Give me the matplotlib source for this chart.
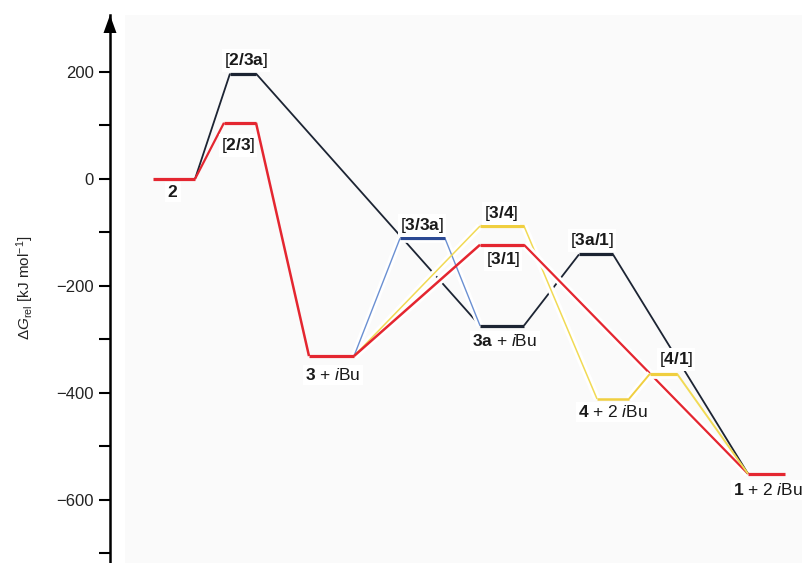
import matplotlib
matplotlib.use("Agg")
import matplotlib.pyplot as plt
from matplotlib.patches import Polygon, Rectangle

plt.rcParams.update({
    "font.family": "Liberation Sans",
    "mathtext.fontset": "custom",
    "mathtext.rm": "Liberation Sans",
    "mathtext.it": "Liberation Sans:italic",
    "mathtext.bf": "Liberation Sans:bold",
})

# Gibbs energies relative to 2 (kJ/mol)
states = ["2", "[2/3a]", "[2/3]", "3", "[3/3a]", "3a", "[3/4]", "[3/1]",
          "[3a/1]", "4", "[4/1]", "1"]
energies = [0, 197, 105, -331, -111, -274, -88, -123, -141, -411, -364, -551]

state_labels = {
    "2": r"$\mathbf{2}$",
    "[2/3a]": r"[$\mathbf{2/3a}$]",
    "[2/3]": r"[$\mathbf{2/3}$]",
    "3": r"$\mathbf{3}$ + $\mathit{i}$Bu",
    "[3/3a]": r"[$\mathbf{3/3a}$]",
    "3a": r"$\mathbf{3a}$ + $\mathit{i}$Bu",
    "[3/4]": r"[$\mathbf{3/4}$]",
    "[3/1]": r"[$\mathbf{3/1}$]",
    "[3a/1]": r"[$\mathbf{3a/1}$]",
    "4": r"$\mathbf{4}$ + 2 $\mathit{i}$Bu",
    "[4/1]": r"[$\mathbf{4/1}$]",
    "1": r"$\mathbf{1}$ + 2 $\mathit{i}$Bu",
}

# reaction channels
path_black = ["2", "[2/3a]", "3a", "[3a/1]", "1"]
path_red = ["2", "[2/3]", "3", "[3/1]", "1"]
path_blue = ["3", "[3/3a]", "3a"]
path_yellow = ["3", "[3/4]", "4", "[4/1]", "1"]

E = dict(zip(states, energies))

# horizontal extent of each level and label anchor (x units, label dy in kJ/mol)
span = {
    "2": (153, 195), "[2/3a]": (230, 256), "[2/3]": (224, 256),
    "3": (309, 354), "[3/3a]": (400, 445), "3a": (480, 524),
    "[3/4]": (480, 524), "[3/1]": (480, 524), "[3a/1]": (579, 613),
    "4": (597, 629), "[4/1]": (650, 677), "1": (748, 785),
}
label_pos = {
    "2": (173, -24), "[2/3a]": (246, 24), "[2/3]": (238, -42),
    "3": (333, -35), "[3/3a]": (422, 24), "3a": (505, -29),
    "[3/4]": (501, 24), "[3/1]": (503, -28), "[3a/1]": (592, 26),
    "4": (613, -25), "[4/1]": (676, 26), "1": (768, -30),
}

RED = "#e42630"
BLACK = "#1c2433"
BLUE = "#6b90d2"
BLUE_DARK = "#2c4a94"
YELLOW = "#f1da55"
YELLOW_LVL = "#f0cf40"

fig = plt.figure(figsize=(8.03, 5.63), dpi=100)
fig.add_artist(Rectangle((125 / 803, 0), 1, 548 / 563, transform=fig.transFigure,
                         facecolor="#fafafa", edgecolor="none", zorder=-1))
ax = fig.add_axes([110 / 803, 0, 693 / 803, 548 / 563])
ax.patch.set_alpha(0)
ax.set_xlim(110, 803)
ax.set_ylim(-717.8, 306.5)


def line(x, y, color, lw, z, halo=None):
    if halo is not None:
        ax.plot(x, y, color="white", lw=lw + 4, zorder=halo,
                solid_capstyle="butt")
    ax.plot(x, y, color=color, lw=lw, zorder=z, solid_capstyle="butt")


def connector(a, b, color, lw, z, halo=None):
    line([span[a][1], span[b][0]], [E[a], E[b]], color, lw, z, halo)


def level(s, color, z, lw=2.3, halo=None):
    line(list(span[s]), [E[s], E[s]], color, lw, z, halo)


# black channel (lowest layer)
for a, b in zip(path_black[:-2], path_black[1:-1]):
    connector(a, b, BLACK, 1.3, 1)
connector(path_black[-2], path_black[-1], BLACK, 1.3, 7)

# blue channel
for a, b in zip(path_blue[:-1], path_blue[1:]):
    connector(a, b, BLUE, 1.0, 2.5, halo=2)
level("[3/3a]", BLUE_DARK, 2.6, halo=2)

# yellow channel
connector("3", "[3/4]", YELLOW, 1.1, 3, halo=2)
connector("[3/4]", "4", YELLOW, 1.1, 3, halo=2)
connector("4", "[4/1]", YELLOW_LVL, 1.4, 8, halo=7.5)
connector("[4/1]", "1", YELLOW, 1.4, 8)
level("[3/4]", YELLOW_LVL, 3.1)
level("4", YELLOW_LVL, 8, lw=1.8)
level("[4/1]", YELLOW_LVL, 8, halo=7.5)

# red channel
connector("2", "[2/3]", RED, 1.6, 4)
connector("[2/3]", "3", RED, 1.8, 4)
connector("3", "[3/1]", RED, 1.8, 3.2, halo=2)
connector("[3/1]", "1", RED, 1.6, 6, halo=5.5)

for s in ["[2/3a]", "3a", "[3a/1]"]:
    level(s, BLACK, 5)
for s in ["2", "[2/3]", "3", "[3/1]", "1"]:
    level(s, RED, 9)

for s in states:
    x, dy = label_pos[s]
    ax.text(x, E[s] + dy, state_labels[s], fontsize=12.5, color="#1a1a1a",
            ha="center", va="center", zorder=10, clip_on=False,
            bbox=dict(boxstyle="square,pad=0.12", fc="white", ec="none"))

# axis: only the left spine with an arrow head
for side in ["top", "right", "bottom"]:
    ax.spines[side].set_visible(False)
ax.spines["left"].set_linewidth(1.8)
ax.set_xticks([])
ax.set_yticks([-600, -400, -200, 0, 200])
ax.set_yticks([-700, -500, -300, -100, 100], minor=True)
ax.tick_params(axis="y", which="both", direction="out", length=8, width=1.5,
               labelsize=12, labelcolor="#222222", pad=3.5)
fig.add_artist(Polygon([(103.5 / 803, 530 / 563), (116.5 / 803, 530 / 563),
                        (110 / 803, 548 / 563)], closed=True,
                       transform=fig.transFigure, facecolor="black",
                       edgecolor="none", zorder=5))
fig.text(25 / 803, 1 - 288 / 563, r"$\Delta G_{\rm rel}$ [kJ mol$^{-1}$]",
         rotation=90, ha="center", va="center", fontsize=11, color="#222222")

fig.savefig("out.png", dpi=100)
